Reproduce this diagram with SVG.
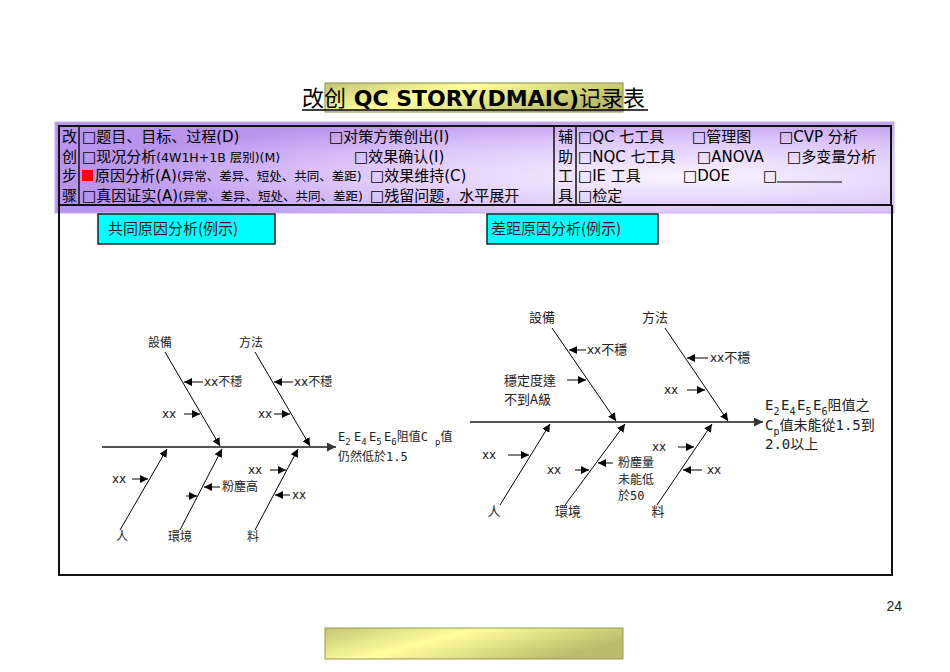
<svg xmlns="http://www.w3.org/2000/svg" width="950" height="672" viewBox="0 0 950 672">
<defs>
<radialGradient id="purp" cx="0.75" cy="0.6" r="0.7">
<stop offset="0" stop-color="#faf4ff"/>
<stop offset="0.6" stop-color="#dcc4fa"/>
<stop offset="1" stop-color="#b894ec"/>
</radialGradient>
<linearGradient id="gold" x1="0" y1="0" x2="1" y2="0.4">
<stop offset="0" stop-color="#c4c478"/>
<stop offset="0.45" stop-color="#ffff9c"/>
<stop offset="1" stop-color="#bcbc6c"/>
</linearGradient>
<marker id="ah" viewBox="0 0 10 10" refX="10" refY="5" markerWidth="8" markerHeight="8" markerUnits="userSpaceOnUse" orient="auto">
<path d="M0,0 L10,5 L0,10 z" fill="#000"/>
</marker>
<marker id="ahs" viewBox="0 0 10 10" refX="10" refY="5" markerWidth="9" markerHeight="9" markerUnits="userSpaceOnUse" orient="auto">
<path d="M0,0 L10,5 L0,10 z" fill="#333"/>
</marker>
</defs>
<style>
.cn{font-family:"DejaVu Sans","Noto Sans CJK SC",sans-serif;fill:#000}
.vc{font-family:"Noto Sans CJK SC",sans-serif;font-size:15px;fill:#000}
.tc{font-family:"Noto Sans CJK TC",sans-serif;fill:#222;font-size:12px}
.tc2{font-family:"Noto Sans CJK TC",sans-serif;fill:#222;font-size:13px}
.xx{font-family:"DejaVu Sans",sans-serif;fill:#222;font-size:12px}
.mono{font-family:"DejaVu Sans Mono","Noto Sans CJK TC",monospace;fill:#222}
.bone{stroke:#000;stroke-width:1;fill:none;marker-end:url(#ah)}
.sm{stroke:#000;stroke-width:1;fill:none;marker-end:url(#ah)}
.spine{stroke:#555;stroke-width:2;fill:none;marker-end:url(#ahs)}
</style>

<g id="title">
<rect x="325" y="83" width="298" height="29" fill="url(#gold)" stroke="#8a8a40" stroke-width="1"/>
<text x="302" y="106" class="cn" font-size="22"><tspan font-family="Noto Sans CJK SC">改创</tspan><tspan font-weight="bold"> QC STORY(DMAIC)</tspan><tspan font-family="Noto Sans CJK SC">记录表</tspan></text>
<line x1="302" y1="110" x2="648" y2="110" stroke="#000" stroke-width="1.5"/>
</g>

<g id="panel">
<rect x="55" y="122" width="839" height="91" fill="url(#purp)" stroke="#c8aef0" stroke-width="1"/>
<rect x="59" y="126" width="832" height="79" fill="none" stroke="#111" stroke-width="2"/>
<line x1="79" y1="126" x2="79" y2="205" stroke="#111" stroke-width="1.5"/>
<line x1="554" y1="126" x2="554" y2="205" stroke="#111" stroke-width="1.5"/>
<line x1="576" y1="126" x2="576" y2="205" stroke="#111" stroke-width="1.5"/>
<text class="vc" x="62" y="142">改</text>
<text class="vc" x="62" y="162">创</text>
<text class="vc" x="62" y="181">步</text>
<text class="vc" x="62" y="201">骤</text>
<text class="vc" x="558" y="142">辅</text>
<text class="vc" x="558" y="162">助</text>
<text class="vc" x="558" y="181">工</text>
<text class="vc" x="558" y="201">具</text>
<g class="cn" font-size="15">
<text x="82" y="142">□题目、目标、过程(D)</text>
<text x="329" y="142">□对策方策创出(I)</text>
<text x="82" y="162">□现况分析<tspan font-size="12.5">(4W1H+1B 层别)(M)</tspan></text>
<text x="354" y="162">□效果确认(I)</text>
<rect x="82" y="170" width="11" height="11" fill="#f00"/>
<text x="95" y="181">原因分析(A)<tspan font-size="12.5">(异常、差异、短处、共同、差距)</tspan></text>
<text x="370" y="181">□效果维持(C)</text>
<text x="82" y="201">□真因证实(A)<tspan font-size="12.5">(异常、差异、短处、共同、差距)</tspan></text>
<text x="370" y="201">□残留问题，水平展开</text>
<text x="578" y="142">□QC 七工具</text>
<text x="692" y="142">□管理图</text>
<text x="779" y="142">□CVP 分析</text>
<text x="578" y="162">□NQC 七工具</text>
<text x="697" y="162">□ANOVA</text>
<text x="787" y="162">□多变量分析</text>
<text x="578" y="181">□IE 工具</text>
<text x="683" y="181">□DOE</text>
<text x="763" y="181">□</text>
<text x="578" y="201">□检定</text>
</g>
<line x1="777" y1="182" x2="842" y2="182" stroke="#000" stroke-width="1"/>
</g>

<g id="mainbox">
<path d="M59,205 V575 H892 V205" fill="none" stroke="#111" stroke-width="2"/>
</g>

<g id="label1">
<rect x="98" y="214" width="177" height="30" fill="#00ffff" stroke="#222" stroke-width="1.5"/>
<text x="108" y="234" font-family="Noto Sans CJK SC,sans-serif" font-size="15" fill="#222">共同原因分析(例示)</text>
</g>
<g id="label2">
<rect x="487" y="214" width="171" height="30" fill="#00ffff" stroke="#222" stroke-width="1.5"/>
<text x="491" y="234" font-family="Noto Sans CJK SC,sans-serif" font-size="15" fill="#222">差距原因分析(例示)</text>
</g>

<g id="connectors">
<line class="spine" x1="102" y1="447" x2="336" y2="447"/>
<line class="bone" x1="165" y1="352" x2="220" y2="446"/>
<line class="bone" x1="255" y1="352" x2="310" y2="446"/>
<line class="bone" x1="120" y1="530" x2="167" y2="449"/>
<line class="bone" x1="180" y1="530" x2="222" y2="449"/>
<line class="bone" x1="255" y1="530" x2="298" y2="449"/>
<line class="sm" x1="203" y1="382" x2="184" y2="382"/>
<line class="sm" x1="184" y1="414" x2="200" y2="414"/>
<line class="sm" x1="293" y1="382" x2="274" y2="382"/>
<line class="sm" x1="274" y1="414" x2="290" y2="414"/>
<line class="sm" x1="132" y1="479" x2="148" y2="479"/>
<line class="sm" x1="220" y1="487" x2="204" y2="487"/>
<line class="sm" x1="186" y1="496" x2="197" y2="496"/>
<line class="sm" x1="270" y1="470" x2="286" y2="470"/>
<line class="sm" x1="290" y1="495" x2="275" y2="495"/>

<line class="spine" x1="470" y1="422" x2="763" y2="422"/>
<line class="bone" x1="552" y1="328" x2="616" y2="421"/>
<line class="bone" x1="665" y1="328" x2="728" y2="421"/>
<line class="bone" x1="500" y1="505" x2="550" y2="424"/>
<line class="bone" x1="565" y1="505" x2="625" y2="424"/>
<line class="bone" x1="657" y1="505" x2="712" y2="424"/>
<line class="sm" x1="586" y1="350" x2="569" y2="350"/>
<line class="sm" x1="567" y1="380" x2="586" y2="380"/>
<line class="sm" x1="708" y1="358" x2="687" y2="358"/>
<line class="sm" x1="687" y1="390" x2="705" y2="390"/>
<line class="sm" x1="508" y1="455" x2="529" y2="455"/>
<line class="sm" x1="575" y1="470" x2="589" y2="470"/>
<line class="sm" x1="613" y1="463" x2="598" y2="463"/>
<line class="sm" x1="678" y1="447" x2="694" y2="447"/>
<line class="sm" x1="702" y1="470" x2="683" y2="470"/>
</g>

<g id="fish1">
<text class="tc" x="160" y="347" text-anchor="middle">設備</text>
<text class="tc" x="251" y="347" text-anchor="middle">方法</text>
<text class="tc" x="122" y="541" text-anchor="middle">人</text>
<text class="tc" x="180" y="541" text-anchor="middle">環境</text>
<text class="tc" x="253" y="541" text-anchor="middle">料</text>
<text class="tc" x="204" y="386"><tspan class="xx">xx</tspan>不穩</text>
<text class="xx" x="162" y="418">xx</text>
<text class="tc" x="294" y="386"><tspan class="xx">xx</tspan>不穩</text>
<text class="xx" x="258" y="418">xx</text>
<text class="xx" x="112" y="483">xx</text>
<text class="tc" x="222" y="491">粉塵高</text>
<text class="xx" x="248" y="474">xx</text>
<text class="xx" x="292" y="499">xx</text>
<g class="mono" font-size="12">
<text x="338" y="441">E<tspan font-size="9" dy="4">2</tspan><tspan dy="-4" x="354">E</tspan><tspan font-size="9" dy="4">4</tspan><tspan dy="-4" x="369">E</tspan><tspan font-size="9" dy="4">5</tspan><tspan dy="-4" x="384">E</tspan><tspan font-size="9" dy="4">6</tspan><tspan dy="-4">阻值C </tspan><tspan font-size="9" dy="4">p</tspan><tspan dy="-4">值</tspan></text>
<text x="338" y="461">仍然低於1.5</text>
</g>
</g>

<g id="fish2">
<text class="tc2" x="542" y="322" text-anchor="middle">設備</text>
<text class="tc2" x="655" y="322" text-anchor="middle">方法</text>
<text class="tc2" x="494" y="516" text-anchor="middle">人</text>
<text class="tc2" x="568" y="516" text-anchor="middle">環境</text>
<text class="tc2" x="658" y="516" text-anchor="middle">料</text>
<text class="tc2" x="587" y="354"><tspan class="xx">xx</tspan>不穩</text>
<text class="tc2" x="504" y="385">穩定度達</text>
<text class="tc2" x="504" y="404">不到A級</text>
<text class="tc2" x="710" y="362"><tspan class="xx">xx</tspan>不穩</text>
<text class="xx" x="664" y="394">xx</text>
<text class="xx" x="482" y="459">xx</text>
<text class="xx" x="547" y="474">xx</text>
<text class="tc" x="618" y="467">粉塵量</text>
<text class="tc" x="618" y="484">未能低</text>
<text class="tc" x="618" y="500">於<tspan class="mono">50</tspan></text>
<text class="xx" x="652" y="451">xx</text>
<text class="xx" x="707" y="474">xx</text>
<g class="mono" font-size="14">
<text x="765" y="410">E<tspan font-size="10" dy="5">2</tspan><tspan dy="-5" x="781">E</tspan><tspan font-size="10" dy="5">4</tspan><tspan dy="-5" x="797">E</tspan><tspan font-size="10" dy="5">5</tspan><tspan dy="-5" x="813">E</tspan><tspan font-size="10" dy="5">6</tspan><tspan dy="-5">阻值之</tspan></text>
<text x="765" y="430">C<tspan font-size="10" dy="5">p</tspan><tspan dy="-5">值未能從1.5到</tspan></text>
<text x="765" y="449">2.0以上</text>
</g>
</g>

<g id="footer">
<text x="902" y="611" font-family="Liberation Sans,sans-serif" font-size="14" fill="#222" text-anchor="end">24</text>
<rect x="325" y="628" width="298" height="31" fill="url(#gold)" stroke="#9a9a50" stroke-width="1"/>
</g>
</svg>
